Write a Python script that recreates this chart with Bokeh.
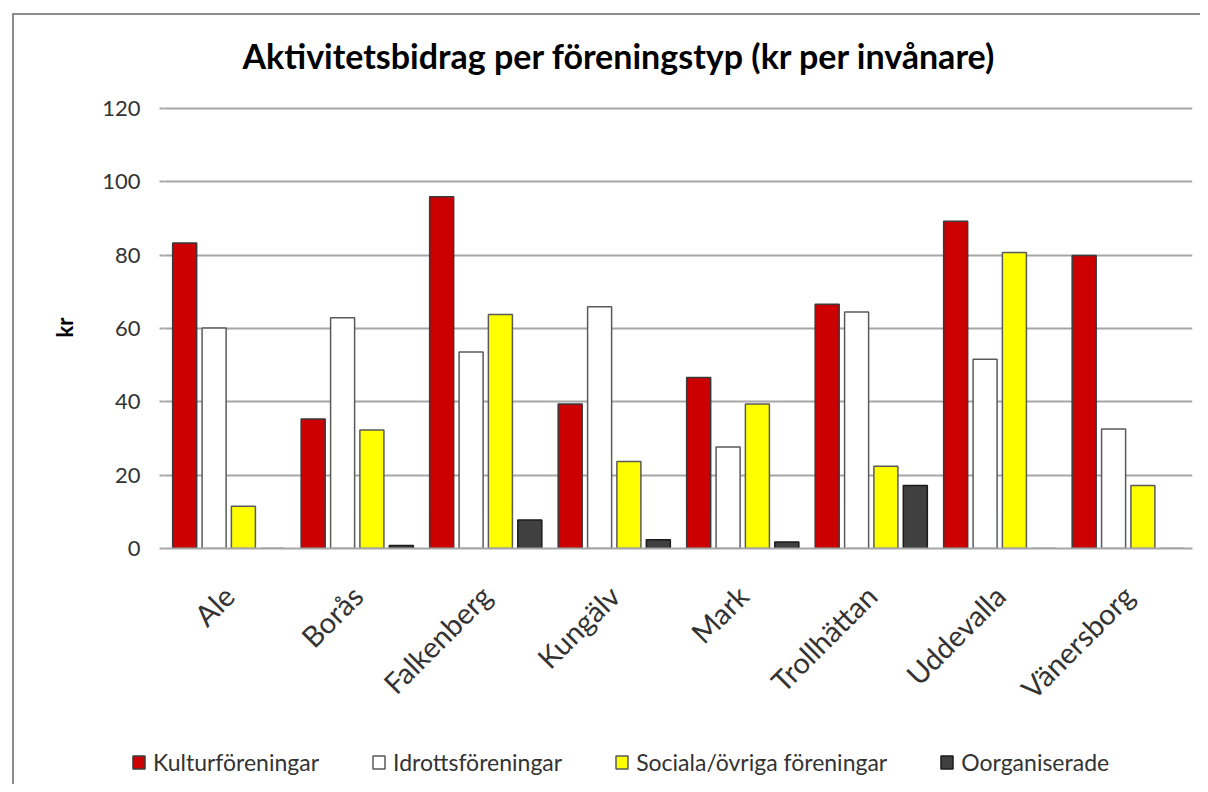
import math
from bokeh.plotting import figure
from bokeh.layouts import column
from bokeh.models import FactorRange, Range1d, Legend, LegendItem, ColumnDataSource
from bokeh.transform import dodge
from bokeh.embed import file_html
from bokeh.resources import INLINE

cities = ["Ale", "Borås", "Falkenberg", "Kungälv", "Mark", "Trollhättan", "Uddevalla", "Vänersborg"]
kultur = [83.3, 35.3, 95.9, 39.4, 46.6, 66.6, 89.2, 79.9]
idrott = [60.1, 62.9, 53.6, 65.9, 27.7, 64.5, 51.6, 32.6]
sociala = [11.5, 32.3, 63.8, 23.7, 39.4, 22.4, 80.7, 17.2]
oorg = [0.0, 0.8, 7.8, 2.4, 1.8, 17.2, 0.0, 0.0]
series_names = ["Kulturföreningar", "Idrottsföreningar", "Sociala/övriga föreningar", "Oorganiserade"]
y_ticks = [0, 20, 40, 60, 80, 100, 120]

FONT = "Lato"
BORDER = "#8c8c8c"

src = ColumnDataSource(dict(city=cities, kultur=kultur, idrott=idrott, sociala=sociala, oorg=oorg))

# ---------------- main chart ----------------
p = figure(
    x_range=FactorRange(factors=cities),
    y_range=Range1d(0, 120.5),
    width=1200, height=720,
    output_backend="svg", toolbar_location=None,
    min_border_left=164, min_border_right=8, min_border_top=106, min_border_bottom=164,
    title="Aktivitetsbidrag per föreningstyp (kr per invånare)",
)
p.frame_align = False
p.outline_line_color = None
p.background_fill_color = "white"
p.border_fill_color = None
p.styles = {
    "background": (f"linear-gradient({BORDER}, {BORDER}) 12px 13px / 2px 100% no-repeat, "
                   f"linear-gradient({BORDER}, {BORDER}) 12px 13px / 100% 2px no-repeat, #ffffff"),
}

p.title.text_font = FONT
p.title.text_font_size = "34px"
p.title.text_font_style = "bold"
p.title.text_color = "#000000"
p.title.align = "left"
p.title.offset = 78
p.title.standoff = 62

fills = ["#cc0000", "#ffffff", "#ffff00", "#404040"]
lines = ["#3a3a3a", "#5a5a5a", "#5a5a5a", "#1a1a1a"]
cols = ["kultur", "idrott", "sociala", "oorg"]
offsets = [-0.343, -0.114, 0.114, 0.343]
for c, off, f, lc in zip(cols, offsets, fills, lines):
    p.vbar(x=dodge("city", off, range=p.x_range), top=c, width=0.187, bottom=0,
           source=src, fill_color=f, line_color=lc, line_width=1.5)

p.xgrid.grid_line_color = None
p.ygrid.grid_line_color = "#a6a6a6"
p.ygrid.grid_line_width = 2

p.yaxis.ticker = y_ticks
p.yaxis.axis_line_color = None
p.yaxis.major_tick_in = 0
p.yaxis.major_tick_out = 5
p.yaxis.major_tick_line_color = "#a6a6a6"
p.yaxis.major_tick_line_width = 2
p.yaxis.minor_tick_line_color = None
p.yaxis.major_label_text_font = FONT
p.yaxis.major_label_text_font_size = "22px"
p.yaxis.major_label_text_color = "#333333"
p.yaxis.major_label_standoff = 19
p.yaxis.axis_label = "kr"
p.yaxis.axis_label_text_font = FONT
p.yaxis.axis_label_text_font_size = "22px"
p.yaxis.axis_label_text_font_style = "bold"
p.yaxis.axis_label_text_color = "#000000"
p.yaxis.axis_label_standoff = 21

p.xaxis.axis_line_color = "#a6a6a6"
p.xaxis.axis_line_width = 2
p.xaxis.major_tick_line_color = None
p.xaxis.minor_tick_line_color = None
p.xaxis.major_label_orientation = math.pi / 4
p.xaxis.major_label_text_font = FONT
p.xaxis.major_label_text_font_size = "29px"
p.xaxis.major_label_text_color = "#333333"
p.xaxis.major_label_standoff = 36

# ---------------- legend strip ----------------
lg = figure(
    width=1200, height=64,
    x_range=Range1d(0, 1), y_range=Range1d(0, 1),
    output_backend="svg", toolbar_location=None,
    min_border=0, min_border_left=0, min_border_right=0, min_border_top=0, min_border_bottom=0,
)
lg.frame_align = False
lg.axis.visible = False
lg.grid.grid_line_color = None
lg.outline_line_color = None
lg.background_fill_color = None
lg.border_fill_color = None
lg.styles = {
    "background": f"linear-gradient({BORDER}, {BORDER}) 12px 0px / 2px 100% no-repeat, #ffffff",
}
nan = float("nan")
swatches = []
for f, lc in zip(fills, lines):
    # legend-only swatch renderers (no visible data)
    swatches.append(lg.quad(left=[nan], right=[nan], bottom=[nan], top=[nan],
                            fill_color=f, line_color=lc, line_width=1.5))

legend = Legend(
    items=[LegendItem(label=n, renderers=[r]) for n, r in zip(series_names, swatches)],
    orientation="horizontal",
    location=(131, 8),
    label_text_font=FONT, label_text_font_size="23px", label_text_color="#333333",
    glyph_width=15, glyph_height=16, label_standoff=7, spacing=52,
    padding=0, margin=0, border_line_color=None, background_fill_alpha=0,
)
lg.add_layout(legend, "center")

layout = column(p, lg, spacing=0)
open("out.html", "w").write(file_html(layout, INLINE))
